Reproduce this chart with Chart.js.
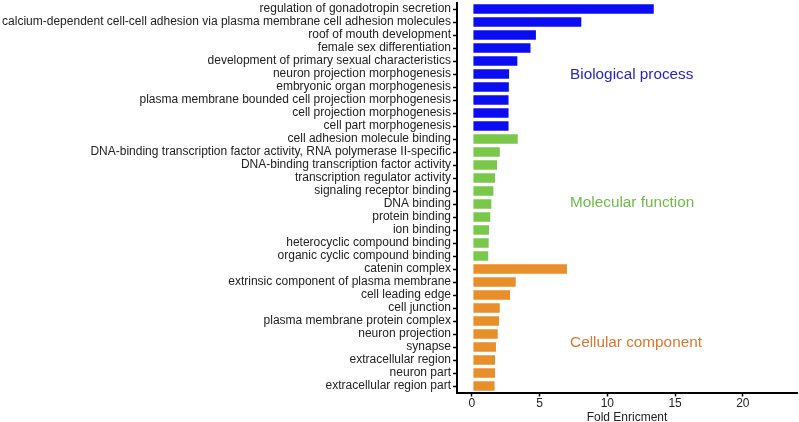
<!DOCTYPE html>
<html>
<head>
<meta charset="utf-8">
<script src="https://cdn.jsdelivr.net/npm/chart.js@4"></script>
<style>
  html, body { margin: 0; padding: 0; background: #fff; }
  #wrap { width: 799px; height: 422px; position: relative; }
</style>
</head>
<body>
<div id="wrap"><canvas id="go-chart"></canvas></div>
<script>
// GO terms, top to bottom
const bpTerms = [
  'regulation of gonadotropin secretion',
  'calcium-dependent cell-cell adhesion via plasma membrane cell adhesion molecules',
  'roof of mouth development',
  'female sex differentiation',
  'development of primary sexual characteristics',
  'neuron projection morphogenesis',
  'embryonic organ morphogenesis',
  'plasma membrane bounded cell projection morphogenesis',
  'cell projection morphogenesis',
  'cell part morphogenesis',
];
const mfTerms = [
  'cell adhesion molecule binding',
  'DNA-binding transcription factor activity, RNA polymerase II-specific',
  'DNA-binding transcription factor activity',
  'transcription regulator activity',
  'signaling receptor binding',
  'DNA binding',
  'protein binding',
  'ion binding',
  'heterocyclic compound binding',
  'organic cyclic compound binding',
];
const ccTerms = [
  'catenin complex',
  'extrinsic component of plasma membrane',
  'cell leading edge',
  'cell junction',
  'plasma membrane protein complex',
  'neuron projection',
  'synapse',
  'extracellular region',
  'neuron part',
  'extracellular region part',
];

const bpValues = [13.5, 8.15, 4.8, 4.4, 3.43, 2.82, 2.8, 2.78, 2.78, 2.78];
const mfValues = [3.46, 2.13, 1.93, 1.78, 1.66, 1.51, 1.43, 1.34, 1.31, 1.28];
const ccValues = [7.09, 3.31, 2.89, 2.13, 2.08, 1.98, 1.85, 1.78, 1.78, 1.75];

const xTicks = [0, 5, 10, 15, 20];

const groupNames = ['Biological process', 'Molecular function', 'Cellular component'];

const BLUE = '#0c0cf2';
const GREEN = '#79c84a';
const ORANGE = '#e98f2a';

const labels = [...bpTerms, ...mfTerms, ...ccTerms];
const values = [...bpValues, ...mfValues, ...ccValues];
const colors = [
  ...bpTerms.map(() => BLUE),
  ...mfTerms.map(() => GREEN),
  ...ccTerms.map(() => ORANGE),
];

// group captions placed in data space (x value, row index)
const captions = [
  { text: groupNames[0], x: 7.25, row: 5.05, color: '#2525c4' },
  { text: groupNames[1], x: 7.25, row: 14.9, color: '#6dbd45' },
  { text: groupNames[2], x: 7.25, row: 25.65, color: '#d9772c' },
];

const captionPlugin = {
  id: 'captions',
  afterDatasetsDraw(chart) {
    const { ctx, scales } = chart;
    ctx.save();
    ctx.font = '15.3px "Liberation Sans", Arial, sans-serif';
    ctx.textAlign = 'left';
    ctx.textBaseline = 'middle';
    const band = scales.y.getPixelForValue(1) - scales.y.getPixelForValue(0);
    for (const c of captions) {
      const y = scales.y.getPixelForValue(0) + c.row * band;
      ctx.fillStyle = c.color;
      ctx.fillText(c.text, scales.x.getPixelForValue(c.x), y);
    }
    ctx.restore();
  },
};

const FONT = '"Liberation Sans", Arial, sans-serif';

new Chart(document.getElementById('go-chart'), {
  type: 'bar',
  data: {
    labels,
    datasets: [{
      data: values,
      backgroundColor: colors,
      borderColor: 'rgba(255,255,255,0.35)',
      borderWidth: 1,
      borderSkipped: false,
      barPercentage: 0.9,
      categoryPercentage: 1,
    }],
  },
  options: {
    indexAxis: 'y',
    responsive: true,
    maintainAspectRatio: false,
    animation: false,
    layout: { padding: { top: 2.5, right: 2, bottom: -1.5, left: 0 } },
    plugins: {
      legend: { display: false },
      tooltip: { enabled: false },
    },
    scales: {
      x: {
        min: -1.1,
        max: 24,
        afterBuildTicks: (scale) => {
          scale.ticks = xTicks.map(v => ({ value: v }));
        },
        border: { display: true, color: '#000', width: 2 },
        grid: {
          display: true,
          drawOnChartArea: false,
          drawTicks: true,
          tickLength: 4,
          tickWidth: 1.5,
          tickColor: '#000',
        },
        ticks: {
          color: '#222',
          font: { family: FONT, size: 12, lineHeight: 1 },
          padding: 1,
          maxRotation: 0,
        },
        title: {
          display: true,
          text: 'Fold Enricment',
          color: '#222',
          font: { family: FONT, size: 12, lineHeight: 1 },
          padding: { top: 1, bottom: 0 },
        },
      },
      y: {
        afterFit: (scale) => {
          scale.width = 457;
          // category labels sit inside their bands, no edge padding needed
          scale.paddingTop = 0;
          scale.paddingBottom = 0;
        },
        border: { display: true, color: '#000', width: 2 },
        grid: {
          display: true,
          offset: false,
          drawOnChartArea: false,
          drawTicks: true,
          tickLength: 4,
          tickWidth: 1.5,
          tickColor: '#000',
        },
        ticks: {
          autoSkip: false,
          color: '#222',
          font: { family: FONT, size: 12 },
          padding: 2,
        },
      },
    },
  },
  plugins: [captionPlugin],
});
</script>
</body>
</html>
